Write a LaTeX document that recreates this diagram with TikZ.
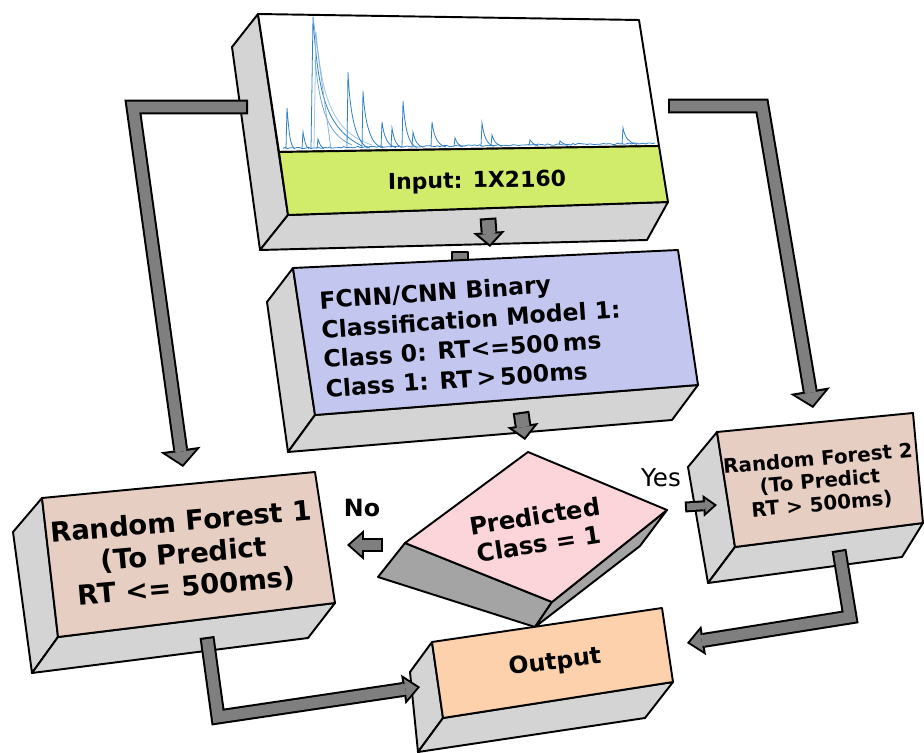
\documentclass[tikz,border=0pt]{standalone}
\usepackage{fontspec}
\setmainfont{DejaVu Sans}
\usetikzlibrary{arrows.meta}

\definecolor{inputgreen}{HTML}{D1EC6A}
\definecolor{modelblue}{HTML}{C3C6EE}
\definecolor{decisionpink}{HTML}{FCD5DB}
\definecolor{forestbrown}{HTML}{E7CEC3}
\definecolor{outputpeach}{HTML}{FDD1AC}
\definecolor{sidegray}{HTML}{D4D4D4}
\definecolor{darkside}{HTML}{A4A4A4}
\definecolor{arrowgray}{HTML}{7F7F7F}
\definecolor{specblue}{HTML}{2F80C8}

\tikzset{
    face/.style={draw=black, line width=1.1pt, line join=round},
    spec/.style={draw=specblue, line width=0.45pt},
    bigflow/.style={draw=black, line width=8.5pt, line join=miter,
        -{Triangle[width=23pt,length=10pt,line width=0pt]},
        postaction={draw=arrowgray, line width=6.2pt, line join=miter, shorten <=1.2pt, shorten >=1.5pt,
            -{Triangle[width=16.9pt,length=7.3pt,line width=0pt]}}},
    midflow/.style={draw=black, line width=8.5pt, line join=miter,
        -{Triangle[width=17pt,length=9.6pt,line width=0pt]},
        postaction={draw=arrowgray, line width=6.2pt, line join=miter, shorten <=1.2pt, shorten >=1.7pt,
            -{Triangle[width=11.9pt,length=6.7pt,line width=0pt]}}},
    downflow/.style={draw=black, line width=9.5pt, line join=miter,
        -{Triangle[width=18pt,length=8.5pt,line width=0pt]},
        postaction={draw=arrowgray, line width=7.2pt, line join=miter, shorten <=1.2pt, shorten >=1.6pt,
            -{Triangle[width=12.2pt,length=5.8pt,line width=0pt]}}},
    smallflow/.style={draw=black, line width=6.2pt, line join=miter,
        -{Triangle[width=12.5pt,length=7.9pt,line width=0pt]},
        postaction={draw=arrowgray, line width=3.9pt, line join=miter, shorten <=1.2pt, shorten >=1.85pt,
            -{Triangle[width=7.75pt,length=4.9pt,line width=0pt]}}},
}

\begin{document}
\begin{tikzpicture}[x=0.02cm, y=-0.02cm]
    \useasboundingbox (0,0) rectangle (924,753);

    % input block with the trace
    \filldraw[face, fill=sidegray] (258,14) -- (232,47) -- (260,250) -- (288,215) -- cycle;
    \filldraw[face, fill=sidegray] (288,215) -- (260,250) -- (647,240) -- (668,202) -- cycle;
    \filldraw[face, fill=white] (258,14) -- (639,20) -- (659,146) -- (279,152) -- cycle;
    \filldraw[face, fill=inputgreen] (279,152) -- (659,146) -- (668,202) -- (288,215) -- cycle;

    \pgfmathsetseed{42}
    \draw[spec] plot[domain=283:655, samples=160] (\x, {149-5*(\x-283)/372-1.6*rnd});
    \draw[spec] (311,149) -- (313,17) .. controls (318,95) and (326,128) .. (362,146);
    \draw[spec, specblue!45] (314,149) -- (316,32) .. controls (322,100) and (333,132) .. (372,145);
    \draw[spec, specblue!70] (315,60) .. controls (320,110) and (328,135) .. (352,145);
    \draw[spec, specblue!60] (313,17) -- (331,149);
    \foreach \x/\t/\d in {287/108/8, 303/132/6, 318/139/6, 348/72/22, 363/91/20, 382/122/14,
                          392/128/10, 403/101/14, 413/132/10, 432/122/14, 455/138/8, 482/123/12,
                          492/135/10, 530/140/8, 560/141/8, 623/128/14}{
        \pgfmathsetmacro{\b}{149-5*(\x-283)/372}
        \draw[spec] (\x-1,\b) -- (\x,\t) .. controls (\x+2,{\t+0.6*(\b-\t)}) and ({\x+0.4*\d},\b-2) .. (\x+\d,\b);
    }

    % stub behind the model block
    \filldraw[face, fill=arrowgray] (452,252) rectangle (468,263);

    % model block
    \filldraw[face, fill=sidegray] (293,268) -- (267,302) -- (288,452) -- (315,415) -- cycle;
    \filldraw[face, fill=sidegray] (315,415) -- (288,452) -- (672,420) -- (698,385) -- cycle;
    \filldraw[face, fill=modelblue] (293,268) -- (678,250) -- (698,385) -- (315,415) -- cycle;

    % decision block
    \filldraw[face, fill=darkside] (405,543) -- (378,577) -- (535,627) -- (552,602) -- cycle;
    \filldraw[face, fill=darkside] (552,602) -- (535,627) -- (640,546) -- (667,510) -- cycle;
    \filldraw[face, fill=decisionpink] (528,452) -- (667,510) -- (552,602) -- (405,543) -- cycle;

    % random forest 1
    \filldraw[face, fill=sidegray] (42,498) -- (13,532) -- (32,673) -- (58,637) -- cycle;
    \filldraw[face, fill=sidegray] (58,637) -- (32,673) -- (308,638) -- (335,603) -- cycle;
    \filldraw[face, fill=forestbrown] (42,498) -- (315,472) -- (335,603) -- (58,637) -- cycle;

    % random forest 2
    \filldraw[face, fill=sidegray] (717,432) -- (688,467) -- (708,583) -- (735,547) -- cycle;
    \filldraw[face, fill=sidegray] (735,547) -- (708,583) -- (902,557) -- (923,523) -- cycle;
    \filldraw[face, fill=forestbrown] (717,432) -- (913,413) -- (923,523) -- (735,547) -- cycle;

    % output
    \filldraw[face, fill=sidegray] (432,642) -- (410,672) -- (418,752) -- (443,718) -- cycle;
    \filldraw[face, fill=sidegray] (443,718) -- (418,752) -- (645,718) -- (673,682) -- cycle;
    \filldraw[face, fill=outputpeach] (432,642) -- (662,608) -- (673,682) -- (443,718) -- cycle;

    \begin{scope}[every node/.style={font=\bfseries, align=center, inner sep=0pt}]
        \node[rotate=1, font=\bfseries\fontsize{12.5}{15}\selectfont] (input) at (477,182) {Input: 1X2160};
        \node[rotate=4, align=left, font=\bfseries\fontsize{13.4}{16.8}\selectfont] (model) at (472,334)
            {FCNN/CNN Binary\\Classification Model 1:\\Class 0: RT<=500\,ms\\Class 1: RT\,>\,500ms};
        \node[rotate=9, font=\bfseries\fontsize{13.8}{16}\selectfont] (decision) at (537,530) {Predicted\\Class = 1};
        \node[rotate=5, font=\bfseries\fontsize{15.6}{18.5}\selectfont] (forest1) at (184,555)
            {Random Forest 1\\(To Predict\\RT <= 500ms)};
        \node[rotate=5, font=\bfseries\fontsize{11.3}{13}\selectfont] (forest2) at (820,482)
            {Random Forest 2\\(To Predict\\RT > 500ms)};
        \node[rotate=7, font=\bfseries\fontsize{13.4}{15}\selectfont] (output) at (555,663) {Output};
        \node[font=\fontsize{14}{16}\selectfont] (yes) at (661,478) {Yes};
        \node[font=\bfseries\fontsize{13.5}{15}\selectfont] (no) at (362,508) {No};
    \end{scope}

    % arrow end points
    \coordinate (inputLeft) at (248,107);
    \coordinate (leftBend) at (133,107);
    \coordinate (forest1Top) at (183,467);
    \coordinate (inputRight) at (668,106);
    \coordinate (rightBend) at (762,106);
    \coordinate (forest2Top) at (813,408);
    \coordinate (inputBottom) at (488,218);
    \coordinate (modelTop) at (490,247);
    \coordinate (modelBottom) at (521,412);
    \coordinate (decisionTop) at (525,440);
    \coordinate (yesStart) at (685,507);
    \coordinate (forest2Side) at (717,505);
    \coordinate (noStart) at (383,545);
    \coordinate (forest1Side) at (347,545);
    \coordinate (forest1Bottom) at (207,637);
    \coordinate (forest1Bend) at (218,717);
    \coordinate (outputLeft) at (420,687);
    \coordinate (forest2Bottom) at (839,550);
    \coordinate (forest2Bend) at (850,617);
    \coordinate (outputRight) at (687,643);

    \draw[bigflow] (inputLeft) -- (leftBend) -- (forest1Top);
    \draw[bigflow] (inputRight) -- (rightBend) -- (forest2Top);
    \draw[downflow] (inputBottom) -- (modelTop);
    \draw[downflow] (modelBottom) -- (decisionTop);
    \draw[smallflow] (yesStart) -- (forest2Side);
    \draw[midflow] (noStart) -- (forest1Side);
    \draw[midflow] (forest1Bottom) -- (forest1Bend) -- (outputLeft);
    \draw[midflow] (forest2Bottom) -- (forest2Bend) -- (outputRight);
\end{tikzpicture}
\end{document}
